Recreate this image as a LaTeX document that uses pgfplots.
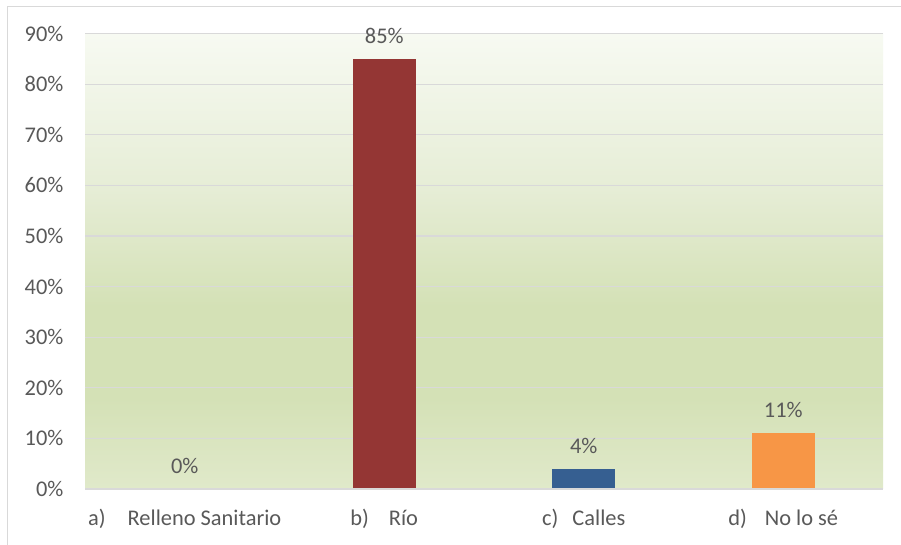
\documentclass[border=0pt]{standalone}
\usepackage{pgfplots}
\pgfplotsset{compat=1.18}
\usepackage{fontspec}
\setmainfont{Carlito}
\definecolor{txt}{HTML}{595959}
\definecolor{gridc}{HTML}{D9D9D9}
\definecolor{cR}{HTML}{943634}
\definecolor{cB}{HTML}{365F91}
\definecolor{cO}{HTML}{F79646}
\definecolor{g0}{HTML}{E0E9CA}
\definecolor{g1}{HTML}{D4E1B6}
\definecolor{g2}{HTML}{E6EDD6}
\definecolor{g3}{HTML}{F7FAF2}
\pgfdeclareverticalshading{plotbg}{100bp}{color(0bp)=(g0); color(25bp)=(g0); color(35bp)=(g1); color(45bp)=(g1); color(58bp)=(g2); color(75bp)=(g3); color(100bp)=(g3)}
\begin{document}
\begin{tikzpicture}
\useasboundingbox (0pt,0pt) rectangle (901pt,545pt);
\fill[white] (0pt,0pt) rectangle (901pt,545pt);
\draw[gridc, line width=1.2pt] (7.5pt,-5pt) -- (7.5pt,538.5pt) -- (906pt,538.5pt);
\begin{axis}[
  at={(85pt,56pt)}, anchor=south west,
  scale only axis, width=798pt, height=455.5pt,
  xmin=-0.5, xmax=3.5, ymin=0, ymax=90,
  axis background/.style={shading=plotbg},
  ytick={0,10,...,90},
  yticklabel={\pgfmathprintnumber{\tick}\%},
  xtick={0,1,2,3},
  xticklabels={a)\hspace{22pt}Relleno Sanitario, b)\hspace{20pt}Río, c)\hspace{14pt}Calles, d)\hspace{18pt}No lo sé},
  /pgf/number format/assume math mode=true,
  tick label style={font=\fontsize{22.4}{24}\selectfont, text=txt},
  yticklabel style={xshift=-18pt},
  xticklabel style={yshift=-17pt},
  major tick length=0pt,
  xmajorgrids=false, ymajorgrids=true, grid style={draw=gridc, line width=1.2pt},
  axis line style={draw=none},
  ybar, bar width=63pt,
  nodes near coords={\pgfmathprintnumber{\pgfplotspointmeta}\%},
  nodes near coords style={font=\fontsize{22.4}{24}\selectfont, text=txt, anchor=south, yshift=12pt},
  clip=false,
]
\addplot[draw=none, fill=cR, bar shift=0pt] coordinates {(0,0)};
\addplot[draw=none, fill=cR, bar shift=0pt] coordinates {(1,85)};
\addplot[draw=none, fill=cB, bar shift=0pt] coordinates {(2,4)};
\addplot[draw=none, fill=cO, bar shift=0pt] coordinates {(3,11)};
\draw[gridc, line width=1.5pt] (axis cs:-0.5,0) -- (axis cs:3.5,0);
\end{axis}
\end{tikzpicture}
\end{document}
